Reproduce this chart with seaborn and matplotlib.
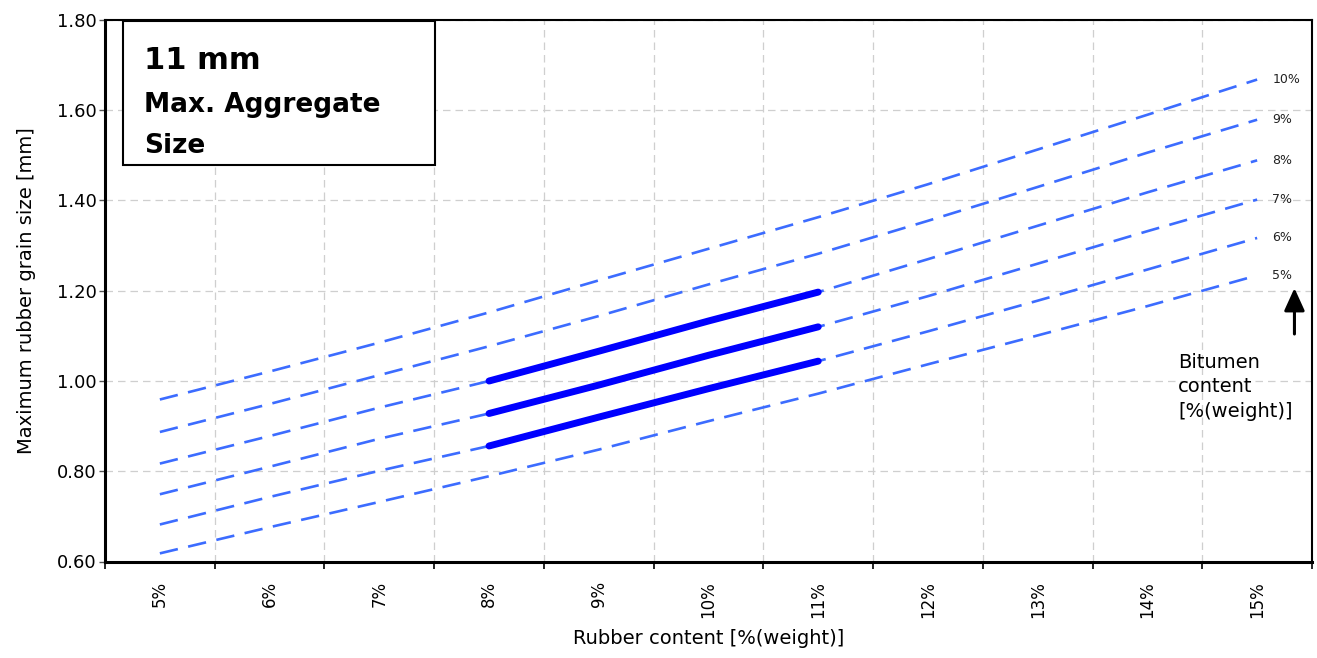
import numpy as np
import matplotlib
matplotlib.use("Agg")
import matplotlib.pyplot as plt
from matplotlib.patches import Rectangle
import pandas as pd
import seaborn as sns

sns.set_theme(style="white")
plt.rcParams['font.family'] = ['DejaVu Sans']
plt.rcParams['text.color'] = 'black'
plt.rcParams['axes.labelcolor'] = 'black'
plt.rcParams['xtick.color'] = 'black'
plt.rcParams['ytick.color'] = 'black'

# rubber content categories (x axis)
rubber = ['5%', '6%', '7%', '8%', '9%', '10%', '11%', '12%', '13%', '14%', '15%']
# bitumen content curves: max rubber grain size [mm]
bit_10 = [0.959, 1.021, 1.085, 1.152, 1.223, 1.293, 1.363, 1.436, 1.513, 1.590, 1.668]
bit_9 = [0.887, 0.949, 1.013, 1.077, 1.144, 1.214, 1.282, 1.355, 1.430, 1.506, 1.579]
bit_8 = [0.817, 0.878, 0.941, 1.000, 1.066, 1.133, 1.197, 1.270, 1.344, 1.418, 1.489]
bit_7 = [0.749, 0.810, 0.872, 0.928, 0.991, 1.057, 1.120, 1.188, 1.260, 1.332, 1.402]
bit_6 = [0.682, 0.743, 0.801, 0.856, 0.920, 0.983, 1.044, 1.110, 1.178, 1.247, 1.317]
bit_5 = [0.618, 0.676, 0.732, 0.789, 0.848, 0.911, 0.972, 1.037, 1.101, 1.166, 1.234]
bitumen = ['10%', '9%', '8%', '7%', '6%', '5%']
curves = [bit_10, bit_9, bit_8, bit_7, bit_6, bit_5]
# highlighted range: rubber 8%..11% for bitumen 8%, 7%, 6%
bold_rubber = ['8%', '9%', '10%', '11%']
bold_bitumen = ['8%', '7%', '6%']

xpos = np.arange(len(rubber))
df = pd.DataFrame({'x': np.tile(xpos, len(bitumen)),
                   'y': np.concatenate(curves),
                   'bitumen': np.repeat(bitumen, len(rubber))})

fig = plt.figure(figsize=(13.17, 6.58), dpi=100)
ax = fig.add_axes([105 / 1317, 1 - 561.5 / 658, 1207 / 1317, 541.5 / 658])

dash_blue = '#3c6cff'
for b in bitumen:
    sub = df[df['bitumen'] == b]
    sns.lineplot(data=sub, x='x', y='y', ax=ax, color=dash_blue, lw=1.9,
                 linestyle=(0, (7, 4)), zorder=3)

bold_idx = [rubber.index(r) for r in bold_rubber]
for b in bold_bitumen:
    sub = df[(df['bitumen'] == b) & (df['x'].isin(bold_idx))]
    sns.lineplot(data=sub, x='x', y='y', ax=ax, color='#0000ff', lw=5,
                 solid_capstyle='round', zorder=4)

# bitumen labels at the line ends
for b, c in zip(bitumen, curves):
    ax.text(10.14, c[-1], b, fontsize=9, ha='left', va='center', color='#222222')

ax.annotate('', xy=(10.34, 1.212), xytext=(10.34, 1.098),
            arrowprops=dict(arrowstyle='-|>,head_width=0.25,head_length=0.55',
                            color='black', lw=2.2, mutation_scale=25))
ax.text(9.28, 1.062, 'Bitumen\ncontent\n[%(weight)]', fontsize=14,
        ha='left', va='top', linespacing=1.35)

# title box
ax.add_patch(Rectangle((0.0149, 0.732), 0.2585, 0.267, transform=ax.transAxes,
                       facecolor='white', edgecolor='black', lw=1.5, zorder=5))
ax.text(0.0323, 0.909, '11 mm', transform=ax.transAxes, fontsize=22,
        fontweight='bold', ha='left', va='baseline', zorder=6)
ax.text(0.0323, 0.830, 'Max. Aggregate', transform=ax.transAxes, fontsize=19,
        fontweight='bold', ha='left', va='baseline', zorder=6)
ax.text(0.0323, 0.754, 'Size', transform=ax.transAxes, fontsize=19,
        fontweight='bold', ha='left', va='baseline', zorder=6)

ax.set_xlim(-0.5, len(rubber) - 0.5)
ax.set_ylim(0.6, 1.8)
ax.set_xticks(xpos)
ax.set_xticklabels(rubber, rotation=90, fontsize=12)
ax.set_xticks(np.arange(-0.5, len(rubber), 1.0), minor=True)
ax.tick_params(axis='x', which='major', length=0, pad=14)
ax.tick_params(axis='x', which='minor', length=5, width=1.2, color='black',
               direction='out', bottom=True)
yt = np.arange(0.6, 1.81, 0.2)
ax.set_yticks(yt)
ax.set_yticklabels(['%.2f' % v for v in yt], fontsize=13)
ax.tick_params(axis='y', length=4, width=1, color='#555555', pad=2, left=True)

ax.grid(False)
ax.grid(axis='y', which='major', color='#cfcfcf', linestyle=(0, (6, 4)), lw=0.9)
ax.grid(axis='x', which='minor', color='#cfcfcf', linestyle=(0, (6, 4)), lw=0.9)
ax.set_axisbelow(True)

for s in ['left', 'bottom']:
    ax.spines[s].set_linewidth(2.2)
for s in ['top', 'right']:
    ax.spines[s].set_linewidth(1.5)
for s in ax.spines.values():
    s.set_color('black')
    s.set_visible(True)

ax.set_xlabel('Rubber content [%(weight)]', fontsize=14, labelpad=8)
ax.set_ylabel('Maximum rubber grain size [mm]', fontsize=14, labelpad=15)
if ax.get_legend() is not None:
    ax.get_legend().remove()

fig.savefig('out.png', dpi=100)
